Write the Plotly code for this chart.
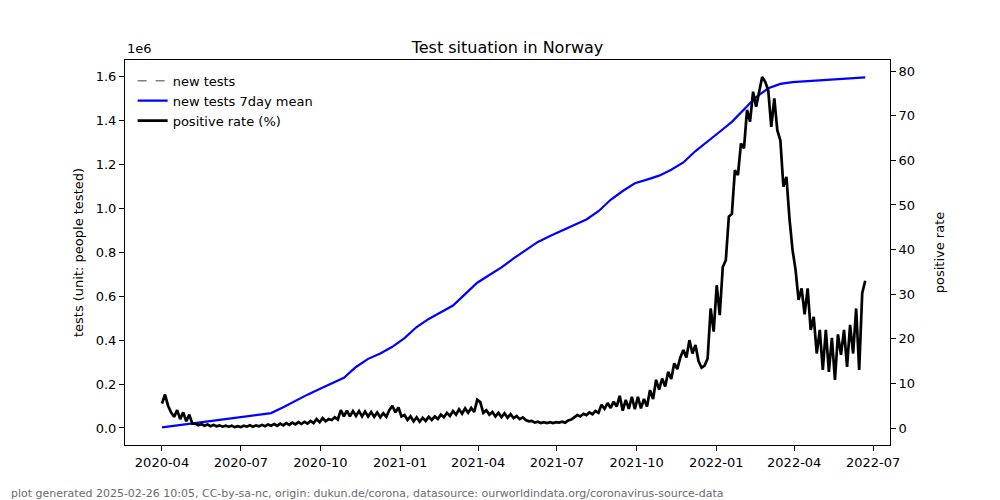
import pandas as pd
import plotly.graph_objects as go

# blue line, sampled every 14 days from 2020-04-01 (people tested, in thousands)
tests_mean_k = [3, 10, 17, 24, 31, 38, 45, 52, 60, 68,
                95, 124, 152, 178, 203, 229, 278, 315, 340, 370,
                410, 460, 497, 527, 558, 610, 662, 697, 732, 773,
                810, 848, 875, 900, 922, 950, 988, 1040, 1080, 1115,
                1132, 1150, 1177, 1210, 1262, 1308, 1350, 1395, 1452, 1508,
                1548, 1568, 1576, 1580, 1584, 1587, 1590, 1594, 1598]

# black line, sampled every 3.5 days from 2020-04-01 (%)
pos_rate = [5.5, 7.5, 5.0, 3.5, 2.5, 4.0, 2.0, 3.5, 1.5, 3.0, 1.0,
            1.0, 0.6, 0.9, 0.5, 0.8, 0.4, 0.7, 0.4, 0.6, 0.3,
            0.5, 0.3, 0.5, 0.2, 0.4, 0.2, 0.5, 0.3, 0.6, 0.3, 0.6, 0.4, 0.7, 0.4,
            0.8, 0.5, 0.9, 0.5, 1.0, 0.6, 1.1, 0.7, 1.2, 0.8, 1.3, 0.9, 1.4, 1.0,
            1.6, 1.1, 2.0, 1.3, 2.2, 1.5, 2.0, 1.8, 2.4, 1.9, 4.0, 2.6,
            3.9, 2.6, 3.8, 2.7, 3.8, 2.6, 3.7, 2.6, 3.6, 2.5, 3.5, 2.4, 3.3, 2.5,
            4.0, 5.0, 3.5, 4.6, 2.6, 2.9,
            1.8, 2.6, 1.5, 2.4, 1.4, 2.3, 1.6, 2.5, 1.8, 2.6, 2.0, 3.0,
            2.4, 3.4, 2.7, 3.8, 3.0, 4.2, 3.2, 4.4, 3.4, 4.5, 3.6, 6.3, 5.8, 3.4,
            4.0, 3.0, 3.6, 2.6, 3.4, 2.4, 3.3, 2.3, 3.1, 2.2, 2.7, 2.0, 2.4,
            1.8, 1.5, 1.6, 1.2, 1.4, 1.1, 1.3, 1.1, 1.3, 1.1, 1.3, 1.2, 1.4, 1.2, 1.7, 1.9, 2.4, 2.9,
            2.6, 3.2, 2.9, 3.5, 3.1, 3.8, 3.4, 5.2, 4.3, 5.6, 4.5, 5.9, 4.8,
            7.2, 3.9, 6.3, 4.3, 7.0, 4.2, 7.0, 4.4, 6.5, 4.8, 8.5, 6.5,
            10.8, 8.6, 11.1, 9.3, 12.6, 11.0, 14.5, 13.2, 15.8, 17.5, 15.8, 19.7, 16.7, 18.6, 15.0, 13.5, 14.0, 15.6,
            26.8, 21.6, 32.0, 25.3, 36.1, 37.6, 47.4, 48.0, 57.8, 56.7, 63.8, 62.7, 71.3, 68.7, 75.4, 72.0, 75.7, 78.7, 77.6, 75.7,
            67.5, 73.9, 66.7, 64.5, 54.1, 56.3, 47.0, 40.0, 35.5, 28.7, 31.3, 25.5, 31.3, 22.0, 24.9,
            16.7, 22.0, 13.0, 22.0, 12.6, 20.2, 10.8, 21.0, 16.4, 22.0, 13.7, 23.1, 16.7, 26.8, 13.0, 30.2, 33.0]

left_ticks = [0, 200000, 400000, 600000, 800000, 1000000, 1200000, 1400000, 1600000]
left_labels = ["0.0", "0.2", "0.4", "0.6", "0.8", "1.0", "1.2", "1.4", "1.6"]
right_ticks = [0, 10, 20, 30, 40, 50, 60, 70, 80]

mean_dates = pd.date_range("2020-04-01", periods=len(tests_mean_k), freq="14D")
rate_dates = pd.date_range("2020-04-01", periods=len(pos_rate), freq="84h")
tests_mean = [v * 1000 for v in tests_mean_k]

FONT = "DejaVu Sans"

fig = go.Figure()
fig.add_trace(go.Scatter(x=[None], y=[None], mode="lines", name="new tests",
                         line=dict(color="grey", dash="dash", width=1.5)))
fig.add_trace(go.Scatter(x=mean_dates, y=tests_mean, mode="lines", name="new tests 7day mean",
                         line=dict(color="blue", width=2.2)))
fig.add_trace(go.Scatter(x=rate_dates, y=pos_rate, mode="lines", name="positive rate (%)",
                         line=dict(color="black", width=2.7), yaxis="y2"))

axis_style = dict(showline=True, linecolor="black", linewidth=1, ticks="outside",
                  ticklen=5, tickcolor="black", showgrid=False, zeroline=False,
                  automargin=False,
                  tickfont=dict(family=FONT, size=13, color="black"))

# page body adds an 8px offset, so margins are shifted to land where the original sits
fig.update_layout(
    width=1000, height=500,
    margin=dict(l=117, r=118, t=52, b=63),
    plot_bgcolor="white", paper_bgcolor="white",
    font=dict(family=FONT, size=13, color="black"),
    title=dict(text="Test situation in Norway", x=0.5, xref="paper", y=0.922, yref="container",
               yanchor="middle", font=dict(family=FONT, size=16, color="black")),
    xaxis=dict(axis_style, type="date", range=["2020-02-18 07:00", "2022-07-20 14:00"],
               dtick="M3", tick0="2020-01-01", tickformat="%Y-%m", mirror=True),
    yaxis=dict(axis_style, range=[-77500, 1677000], tickvals=left_ticks, ticktext=left_labels,
               title=dict(text="tests (unit: people tested)", standoff=9,
                          font=dict(family=FONT, size=13))),
    yaxis2=dict(axis_style, overlaying="y", side="right", range=[-3.81, 82.5],
                tickvals=right_ticks,
                title=dict(text="positive rate", standoff=20, font=dict(family=FONT, size=13))),
    legend=dict(x=0.01, y=0.985, xanchor="left", yanchor="top", bgcolor="rgba(0,0,0,0)",
                font=dict(family=FONT, size=13), tracegroupgap=0),
    showlegend=True,
)

fig.add_annotation(text="1e6", xref="paper", yref="paper", x=0, y=1, xanchor="left",
                   yanchor="bottom", yshift=2, showarrow=False,
                   font=dict(family=FONT, size=13, color="black"))
fig.add_annotation(text="plot generated 2025-02-26 10:05, CC-by-sa-nc, origin: dukun.de/corona, "
                        "datasource: ourworldindata.org/coronavirus-source-data",
                   xref="paper", yref="paper", x=-0.152, y=-0.127, xanchor="left",
                   yanchor="middle", showarrow=False,
                   font=dict(family=FONT, size=11, color="#6a6a6a"))

fig.write_html("out.html")
